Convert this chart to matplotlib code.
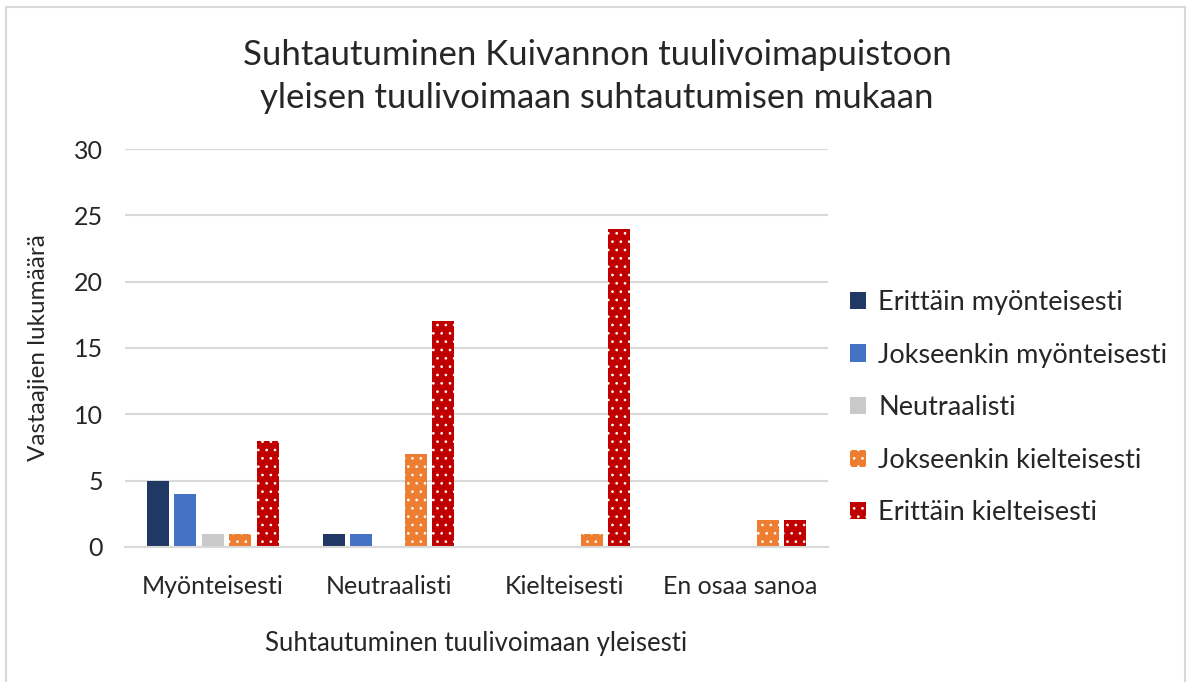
import matplotlib.pyplot as plt
import numpy as np
from matplotlib.patches import Rectangle

plt.rcParams['font.family'] = ['Lato', 'DejaVu Sans']
plt.rcParams['hatch.linewidth'] = 0.7

categories = ['Myönteisesti', 'Neutraalisti', 'Kielteisesti', 'En osaa sanoa']
series = ['Erittäin myönteisesti', 'Jokseenkin myönteisesti', 'Neutraalisti',
          'Jokseenkin kielteisesti', 'Erittäin kielteisesti']
erittain_myont = [5, 1, 0, 0]
jokseenkin_myont = [4, 1, 0, 0]
neutraalisti = [1, 0, 0, 0]
jokseenkin_kielt = [1, 7, 1, 2]
erittain_kielt = [8, 17, 24, 2]
values = [erittain_myont, jokseenkin_myont, neutraalisti, jokseenkin_kielt, erittain_kielt]

colors = ['#203864', '#4472C4', '#C9C9C9', '#ED7D31', '#C00000']
hatches = [None, None, None, '..', '..']

fig = plt.figure(figsize=(11.87, 6.82), dpi=100)
ax = fig.add_axes([0.1053, 0.198, 0.5923, 0.5835])

x = np.arange(len(categories))
slot = 0.156
w = 0.125
for i, (name, vals) in enumerate(zip(series, values)):
    pos = x + (i - 2) * slot
    if hatches[i]:
        ax.bar(pos, vals, w, color=colors[i], edgecolor='white', linewidth=0,
               hatch=hatches[i], label=name)
    else:
        ax.bar(pos, vals, w, color=colors[i], linewidth=0, label=name)

ax.set_xlim(-0.5, 3.5)
ax.set_ylim(0, 30)
ax.set_yticks(range(0, 31, 5))
ax.yaxis.grid(True, color='#D9D9D9', linewidth=1.5)
ax.set_axisbelow(True)
for s in ['top', 'right', 'left']:
    ax.spines[s].set_visible(False)
ax.spines['bottom'].set_color('#D9D9D9')
ax.spines['bottom'].set_linewidth(1.5)
ax.set_xticks(x)
ax.set_xticklabels(categories)
ax.tick_params(axis='both', length=0, labelsize=18, colors='#262626')
ax.tick_params(axis='x', pad=20)
ax.tick_params(axis='y', pad=16)

ax.set_xlabel('Suhtautuminen tuulivoimaan yleisesti', fontsize=18.5, color='#262626', labelpad=24)
ax.set_ylabel('Vastaajien lukumäärä', fontsize=17.5, color='#262626', labelpad=18)

fig.text(0.503, 0.888, 'Suhtautuminen Kuivannon tuulivoimapuistoon\nyleisen tuulivoimaan suhtautumisen mukaan',
         ha='center', va='center', fontsize=25, color='#262626', linespacing=1.45)

ax.legend(loc='center left', bbox_to_anchor=(1.0, 0.35), frameon=False, fontsize=19.5,
          handlelength=0.6, handleheight=0.6, handletextpad=0.45, labelspacing=1.02,
          labelcolor='#262626', borderaxespad=0.4)

fig.patches.append(Rectangle((0.005, -0.1), 0.993, 1.09, transform=fig.transFigure,
                             fill=False, edgecolor='#D9D9D9', linewidth=1.5))

fig.savefig('out.png', dpi=100)
